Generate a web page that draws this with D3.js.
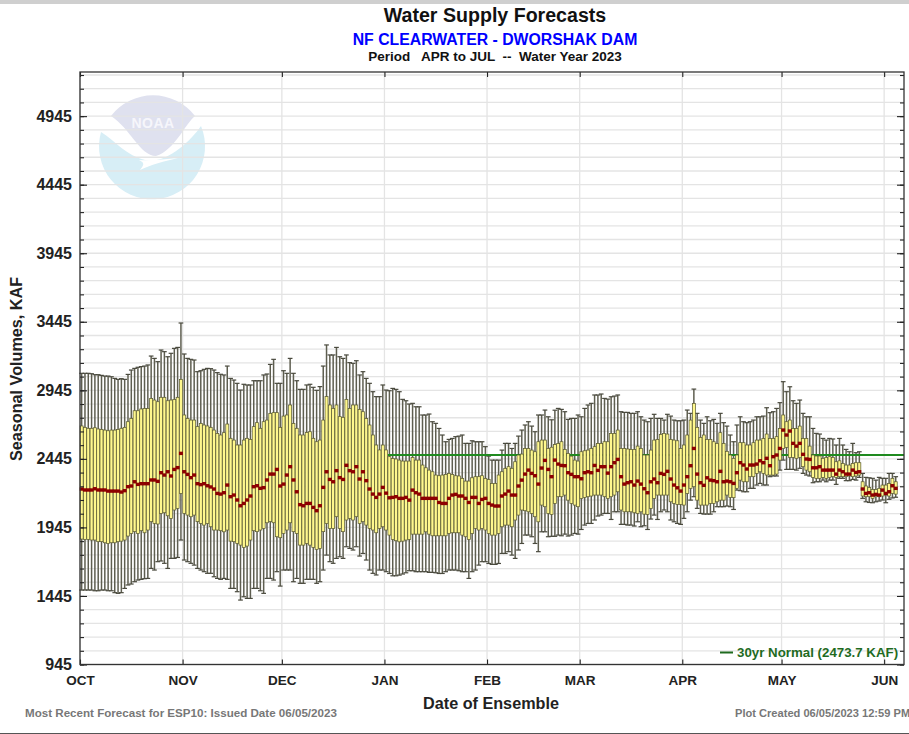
<!DOCTYPE html>
<html>
<head>
<meta charset="utf-8">
<script src="https://cdn.jsdelivr.net/npm/d3@7"></script>
<style>
  html, body { margin: 0; padding: 0; background: #fff; overflow: hidden; }
  svg { display: block; font-family: "Liberation Sans", Arial, sans-serif; }
  text { font-weight: bold; }
  .axis path { display: none; }
</style>
</head>
<body>
<svg id="chart" width="909" height="734"></svg>
<script>
// Chart text and tick labels
const MONTHS = ["OCT", "NOV", "DEC", "JAN", "FEB", "MAR", "APR", "MAY", "JUN"];
const MONTH_DAYS = [0, 31, 61, 92, 123, 151, 182, 212, 243];
const Y_LABELS = [945, 1445, 1945, 2445, 2945, 3445, 3945, 4445, 4945];
const Y_MINOR = [945, 1045, 1145, 1245, 1345, 1445, 1545, 1645, 1745, 1845, 1945, 2045, 2145, 2245, 2345, 2445, 2545, 2645, 2745, 2845, 2945, 3045, 3145, 3245, 3345, 3445, 3545, 3645, 3745, 3845, 3945, 4045, 4145, 4245, 4345, 4445, 4545, 4645, 4745, 4845, 4945, 5045, 5145, 5245];
const NORMAL = 2473.7;
const NORMAL_FROM_DAY = 93;

// One value a day from Oct 1 (KAF)
const whiskerHigh = [
  3069,3069,3069,3066,3059,3059,3054,3049,3049,3044,
  3032,3025,3030,3025,3061,3093,3105,3113,3118,3122,
  3130,3195,3178,3154,3239,3227,3190,3215,3251,3258,
  3436,3210,3178,3171,3166,3081,3088,3098,3105,3103,
  3093,3074,3062,3057,3122,3032,3020,2996,2947,2989,
  2984,2984,3015,3015,3015,3057,3064,3134,3171,2996,
  2996,3088,3069,3178,3069,3015,2952,2952,2984,2989,
  2967,2945,2972,3122,3276,3203,3203,3258,3190,3178,
  3203,3147,3142,3161,3057,3081,3032,2996,2935,2899,
  2899,2984,2947,2942,2959,2952,2935,2879,2869,2845,
  2850,2825,2825,2765,2765,2772,2716,2704,2667,2619,
  2570,2587,2594,2607,2611,2619,2558,2558,2577,2570,
  2570,2570,2534,2465,2436,2436,2436,2509,2558,2558,
  2521,2558,2611,2655,2692,2716,2684,2643,2765,2765,
  2801,2752,2730,2800,2813,2806,2789,2733,2740,2740,
  2765,2752,2813,2838,2850,2911,2911,2918,2886,2881,
  2898,2903,2911,2789,2784,2784,2777,2777,2789,2752,
  2728,2716,2740,2770,2740,2740,2728,2770,2757,2728,
  2723,2723,2728,2801,2777,2954,2777,2728,2704,2752,
  2723,2733,2704,2777,2709,2684,2619,2570,2692,2752,
  2716,2709,2716,2728,2752,2752,2757,2818,2782,2789,
  2813,2855,3008,2935,2971,2869,2850,2874,2777,2752,
  2752,2667,2631,2626,2594,2582,2594,2590,2546,2594,
  2546,2514,2497,2558,2490,2497,2339,2310,2307,2303,
  2290,2310,2303,2303,2339,2339,2315
];
const boxHigh = [
  2685,2675,2668,2668,2672,2663,2660,2655,2650,2655,
  2655,2660,2668,2675,2716,2740,2796,2796,2809,2813,
  2813,2886,2874,2862,2894,2894,2869,2874,2879,2894,
  3025,2765,2740,2728,2728,2680,2704,2692,2685,2675,
  2655,2631,2619,2636,2699,2595,2582,2546,2546,2582,
  2595,2587,2680,2709,2668,2716,2728,2777,2782,2782,
  2675,2757,2765,2838,2704,2668,2619,2619,2638,2643,
  2595,2570,2582,2728,2899,2838,2813,2838,2753,2748,
  2879,2813,2838,2838,2806,2789,2740,2692,2619,2546,
  2510,2546,2510,2461,2448,2444,2436,2429,2429,2429,
  2456,2436,2436,2400,2380,2363,2351,2327,2322,2327,
  2332,2339,2332,2322,2320,2303,2283,2283,2307,2315,
  2315,2322,2303,2295,2266,2266,2327,2351,2376,2388,
  2376,2424,2473,2480,2521,2521,2509,2497,2570,2582,
  2582,2521,2530,2550,2558,2570,2514,2485,2465,2436,
  2429,2497,2504,2509,2521,2534,2558,2558,2570,2570,
  2631,2631,2655,2521,2521,2517,2514,2514,2538,2521,
  2473,2473,2509,2582,2587,2624,2631,2626,2587,2582,
  2577,2521,2546,2619,2728,2850,2675,2602,2619,2587,
  2587,2570,2558,2636,2558,2500,2473,2449,2473,2563,
  2563,2546,2546,2563,2582,2582,2594,2626,2594,2594,
  2607,2667,2765,2716,2728,2667,2667,2684,2594,2594,
  2538,2473,2466,2466,2449,2456,2461,2456,2424,2431,
  2412,2400,2400,2412,2417,2417,2278,2247,2237,2222,
  2222,2230,2254,2254,2266,2303,2278
];
const median = [
  2225,2218,2218,2218,2227,2218,2218,2218,2210,2210,
  2210,2210,2203,2213,2242,2247,2278,2259,2264,2264,
  2264,2291,2291,2281,2344,2327,2351,2320,2368,2381,
  2485,2351,2332,2308,2327,2264,2257,2264,2249,2240,
  2225,2193,2188,2198,2254,2169,2181,2145,2103,2120,
  2145,2174,2242,2249,2230,2235,2291,2334,2334,2368,
  2247,2261,2327,2388,2291,2205,2111,2103,2120,2120,
  2091,2067,2103,2237,2351,2295,2278,2359,2308,2295,
  2398,2359,2351,2388,2298,2351,2286,2225,2188,2164,
  2188,2237,2195,2161,2164,2169,2157,2157,2164,2144,
  2217,2198,2188,2157,2157,2157,2157,2157,2127,2120,
  2120,2157,2181,2186,2174,2174,2157,2127,2164,2164,
  2120,2149,2157,2120,2108,2101,2101,2174,2188,2210,
  2181,2181,2247,2290,2334,2363,2339,2322,2261,2378,
  2434,2368,2315,2436,2407,2397,2395,2344,2332,2315,
  2315,2300,2344,2351,2344,2397,2361,2388,2388,2341,
  2388,2417,2441,2315,2261,2271,2278,2254,2283,2261,
  2227,2198,2278,2298,2271,2339,2332,2354,2298,2254,
  2234,2210,2254,2315,2395,2521,2334,2271,2252,2307,
  2290,2286,2278,2354,2278,2283,2278,2266,2344,2417,
  2400,2371,2400,2400,2407,2431,2417,2449,2395,2461,
  2473,2521,2655,2619,2648,2558,2538,2558,2478,2444,
  2441,2380,2380,2388,2363,2363,2363,2363,2334,2363,
  2351,2334,2334,2363,2346,2351,2225,2193,2198,2181,
  2186,2181,2217,2193,2205,2249,2230
];
const boxLow = [
  1860,1858,1858,1853,1853,1841,1841,1833,1828,1833,
  1833,1841,1845,1853,1882,1901,1914,1901,1921,1906,
  1926,1987,1974,1970,2047,2052,2030,2011,2072,2084,
  2193,2047,2035,2023,2035,1987,1974,1962,1974,1950,
  1926,1926,1921,1913,1926,1845,1841,1828,1816,1799,
  1809,1853,1921,1914,1926,1938,1979,1987,1979,1877,
  1870,1901,1926,1979,1914,1901,1816,1816,1828,1816,
  1799,1785,1792,1914,1974,1938,1938,2023,1938,1914,
  1999,2011,1999,2023,1974,1987,1962,1938,1926,1906,
  1938,1950,1926,1889,1857,1848,1840,1845,1853,1857,
  1896,1896,1896,1896,1913,1896,1884,1884,1884,1884,
  1884,1901,1906,1906,1906,1889,1877,1857,1901,1938,
  1926,1938,1926,1901,1889,1889,1901,1950,1962,1962,
  1950,1999,2035,2072,2067,2059,2047,2023,1986,2108,
  2096,2047,2040,2120,2169,2169,2181,2144,2120,2108,
  2096,2157,2164,2169,2174,2181,2181,2181,2169,2157,
  2169,2181,2205,2072,2059,2059,2059,2052,2047,2059,
  2042,2040,2084,2157,2181,2181,2181,2181,2132,2120,
  2113,2113,2108,2193,2230,2242,2144,2108,2108,2108,
  2120,2120,2132,2144,2144,2181,2164,2162,2230,2290,
  2278,2278,2315,2315,2339,2351,2339,2327,2327,2327,
  2334,2436,2521,2529,2456,2456,2449,2456,2388,2363,
  2351,2310,2303,2303,2310,2303,2310,2315,2310,2315,
  2315,2315,2320,2315,2320,2327,2174,2169,2169,2157,
  2169,2169,2174,2181,2174,2193,2188
];
const whiskerLow = [
  1488,1488,1488,1488,1483,1483,1488,1488,1483,1483,
  1469,1464,1469,1500,1525,1532,1549,1561,1566,1571,
  1573,1646,1634,1695,1700,1683,1646,1719,1719,1726,
  1853,1707,1695,1683,1670,1646,1634,1622,1610,1610,
  1585,1573,1566,1573,1566,1500,1500,1476,1415,1439,
  1427,1427,1500,1500,1483,1464,1573,1573,1561,1622,
  1517,1634,1634,1634,1549,1573,1537,1537,1566,1566,
  1566,1537,1549,1634,1743,1695,1683,1719,1731,1719,
  1804,1792,1780,1804,1736,1755,1707,1634,1610,1598,
  1634,1634,1622,1609,1592,1592,1597,1605,1614,1629,
  1629,1622,1622,1622,1622,1617,1617,1614,1609,1609,
  1622,1634,1634,1634,1629,1622,1622,1573,1622,1634,
  1670,1695,1695,1682,1675,1675,1682,1755,1755,1768,
  1743,1719,1780,1828,1889,1889,1877,1828,1768,1913,
  1913,1877,1880,1880,1889,1884,1896,1882,1889,1901,
  1896,1930,1962,1974,1974,1999,2028,2035,2047,2047,
  2003,2059,2059,1967,1967,1962,1962,1955,1986,1950,
  1957,1930,2006,2035,2003,2059,2072,2059,1999,1986,
  1974,1967,2011,2059,2144,2169,2084,2047,2042,2042,
  2042,2059,2096,2096,2096,2101,2096,2076,2217,2213,
  2205,2205,2230,2230,2254,2266,2254,2254,2315,2320,
  2320,2363,2436,2368,2368,2368,2363,2376,2339,2327,
  2320,2271,2278,2278,2290,2278,2290,2290,2259,2303,
  2303,2286,2286,2295,2290,2310,2157,2132,2127,2125,
  2132,2137,2145,2125,2150,2160,2165
];

const MARGIN = { left: 80, right: 5, top: 72, bottom: 69.5 };
const WIDTH = 909;
const HEIGHT = 734;
const LAST_DAY = 249;
const TOP_VALUE = 5267;

const svg = d3.select("#chart");
const days = d3.range(median.length);

const x = d3.scaleLinear().domain([0, LAST_DAY]).range([MARGIN.left, WIDTH - MARGIN.right]);
const y = d3.scaleLinear().domain([945, TOP_VALUE]).range([HEIGHT - MARGIN.bottom, MARGIN.top]);
const step = x(1) - x(0);

// page edges
svg.append("rect").attr("x", 0).attr("y", 0).attr("width", WIDTH).attr("height", 4).attr("fill", "#cfcfcf");
svg.append("rect").attr("x", 0).attr("y", 733).attr("width", WIDTH).attr("height", 1).attr("fill", "#555");

drawLogo();

// grid
const grid = svg.append("g");
grid.selectAll(".hgrid")
  .data(Y_MINOR)
  .join("line")
  .attr("x1", MARGIN.left).attr("x2", WIDTH - MARGIN.right)
  .attr("y1", d => y(d)).attr("y2", d => y(d))
  .attr("stroke", "#e4e4e4").attr("stroke-width", 1.3);
grid.selectAll(".vgrid")
  .data(MONTH_DAYS)
  .join("line")
  .attr("x1", d => x(d)).attr("x2", d => x(d))
  .attr("y1", MARGIN.top).attr("y2", HEIGHT - MARGIN.bottom)
  .attr("stroke", "#e4e4e4").attr("stroke-width", 1.3);

// whiskers go under the normal line, boxes over it
const whiskers = svg.append("g");
whiskers.selectAll("line.stem")
  .data(days)
  .join("line")
  .attr("class", "stem")
  .attr("x1", d => x(d + 0.5)).attr("x2", d => x(d + 0.5))
  .attr("y1", d => y(whiskerHigh[d])).attr("y2", d => y(whiskerLow[d]))
  .attr("stroke", "#5e5e50").attr("stroke-width", 1.5);
whiskers.selectAll("line.hatTop")
  .data(days)
  .join("line")
  .attr("class", "hatTop")
  .attr("x1", d => x(d) - 0.7).attr("x2", d => x(d + 1) + 0.7)
  .attr("y1", d => y(whiskerHigh[d])).attr("y2", d => y(whiskerHigh[d]))
  .attr("stroke", "#4a4a3e").attr("stroke-width", 1.2);
whiskers.selectAll("line.hatBottom")
  .data(days)
  .join("line")
  .attr("class", "hatBottom")
  .attr("x1", d => x(d) - 0.7).attr("x2", d => x(d + 1) + 0.7)
  .attr("y1", d => y(whiskerLow[d])).attr("y2", d => y(whiskerLow[d]))
  .attr("stroke", "#4a4a3e").attr("stroke-width", 1.2);

svg.append("line")
  .attr("x1", x(NORMAL_FROM_DAY)).attr("x2", WIDTH - MARGIN.right)
  .attr("y1", y(NORMAL)).attr("y2", y(NORMAL))
  .attr("stroke", "#1f8a1f").attr("stroke-width", 2);

svg.append("g").selectAll("rect")
  .data(days)
  .join("rect")
  .attr("x", d => x(d) + 0.15)
  .attr("y", d => y(boxHigh[d]))
  .attr("width", step - 0.3)
  .attr("height", d => y(boxLow[d]) - y(boxHigh[d]))
  .attr("fill", "#fff88e")
  .attr("stroke", "#5a5a30")
  .attr("stroke-width", 0.72);

svg.append("g").selectAll("rect")
  .data(days)
  .join("rect")
  .attr("x", d => x(d + 0.5) - 2)
  .attr("y", d => y(median[d]) - 1.7)
  .attr("width", 4)
  .attr("height", 3.4)
  .attr("fill", "#8e0000");

drawAxes();
drawText();

function drawAxes () {
  const bottomY = HEIGHT - MARGIN.bottom;
  const rightX = WIDTH - MARGIN.right;

  svg.append("g").attr("class", "axis")
    .attr("transform", `translate(${MARGIN.left},0)`)
    .call(d3.axisLeft(y).tickValues(Y_MINOR).tickSize(-4).tickFormat(""));
  svg.append("g").attr("class", "axis labels-y")
    .attr("transform", `translate(${MARGIN.left},0)`)
    .call(d3.axisLeft(y).tickValues(Y_LABELS).tickSize(-7).tickPadding(8).tickFormat(d3.format("d")));
  svg.append("g").attr("class", "axis")
    .attr("transform", `translate(${rightX},0)`)
    .call(d3.axisRight(y).tickValues(Y_MINOR).tickSize(-4).tickFormat(""));
  svg.append("g").attr("class", "axis")
    .attr("transform", `translate(${rightX},0)`)
    .call(d3.axisRight(y).tickValues(Y_LABELS).tickSize(-7).tickFormat(""));
  svg.append("g").attr("class", "axis")
    .attr("transform", `translate(0,${MARGIN.top})`)
    .call(d3.axisTop(x).tickValues(MONTH_DAYS).tickSize(-5).tickFormat(""));
  svg.append("g").attr("class", "axis labels-x")
    .attr("transform", `translate(0,${bottomY})`)
    .call(d3.axisBottom(x).tickValues(MONTH_DAYS).tickSize(-5).tickPadding(11)
      .tickFormat((d, i) => MONTHS[i]));

  svg.selectAll(".axis line").attr("stroke", "#222").attr("stroke-width", 1.1);
  svg.selectAll(".labels-y text").attr("font-size", 16).attr("font-family", "Liberation Sans").attr("fill", "#222");
  svg.selectAll(".labels-x text").attr("font-size", 13.5).attr("font-family", "Liberation Sans").attr("fill", "#222");

  svg.append("rect")
    .attr("x", MARGIN.left).attr("y", MARGIN.top)
    .attr("width", rightX - MARGIN.left).attr("height", bottomY - MARGIN.top)
    .attr("fill", "none").attr("stroke", "#333").attr("stroke-width", 1.3);
}

function drawText () {
  svg.append("text").attr("x", 495).attr("y", 21.5).attr("text-anchor", "middle")
    .attr("font-size", 19.6).attr("fill", "#111").text("Water Supply Forecasts");
  svg.append("text").attr("x", 495).attr("y", 45).attr("text-anchor", "middle")
    .attr("font-size", 15.8).attr("fill", "#0000ff").text("NF CLEARWATER - DWORSHAK DAM");
  svg.append("text").attr("x", 495).attr("y", 61).attr("text-anchor", "middle")
    .attr("font-size", 13.5).attr("fill", "#111").style("white-space", "pre")
    .text("Period   APR to JUL  --  Water Year 2023");

  svg.append("text").attr("transform", "translate(22,369) rotate(-90)").attr("text-anchor", "middle")
    .attr("font-size", 16.2).attr("fill", "#222").text("Seasonal Volumes, KAF");
  svg.append("text").attr("x", 491).attr("y", 709).attr("text-anchor", "middle")
    .attr("font-size", 16.2).attr("fill", "#222").text("Date of Ensemble");

  svg.append("text").attr("x", 25).attr("y", 717)
    .attr("font-size", 11.6).attr("fill", "#777").text("Most Recent Forecast for ESP10: Issued Date 06/05/2023");
  svg.append("text").attr("x", 735).attr("y", 717)
    .attr("font-size", 11.1).attr("fill", "#777").text("Plot Created 06/05/2023 12:59 PM");

  // legend
  svg.append("line").attr("x1", 720).attr("x2", 733).attr("y1", 652.5).attr("y2", 652.5)
    .attr("stroke", "#1f6b1f").attr("stroke-width", 2);
  svg.append("text").attr("x", 737).attr("y", 656.5)
    .attr("font-size", 13.3).attr("fill", "#1f6b1f").text("30yr Normal (2473.7 KAF)");
}

function drawLogo () {
  const logo = svg.append("g");
  logo.append("path")
    .attr("d", "M101,132 C115,141 127,156 145,160 C165,165 190,142 201,126 A53,53 0 1 1 101,132 Z")
    .attr("fill", "#d7eef6");
  logo.append("path")
    .attr("d", "M111,116 A53,53 0 0 1 195,116 C185,124 175,150 156,156 C140,156 130,128 111,116 Z")
    .attr("fill", "#dfe1ef");
  logo.append("path")
    .attr("d", "M139,160 C152,161 165,159 178,158 C165,161 150,165 140,170 C143,166 146,163 139,160 Z")
    .attr("fill", "#fff");
  logo.append("text").attr("x", 153).attr("y", 128).attr("text-anchor", "middle")
    .attr("font-size", 14).attr("letter-spacing", 0.5).attr("fill", "#f6f6fb").text("NOAA");
}
</script>
</body>
</html>
